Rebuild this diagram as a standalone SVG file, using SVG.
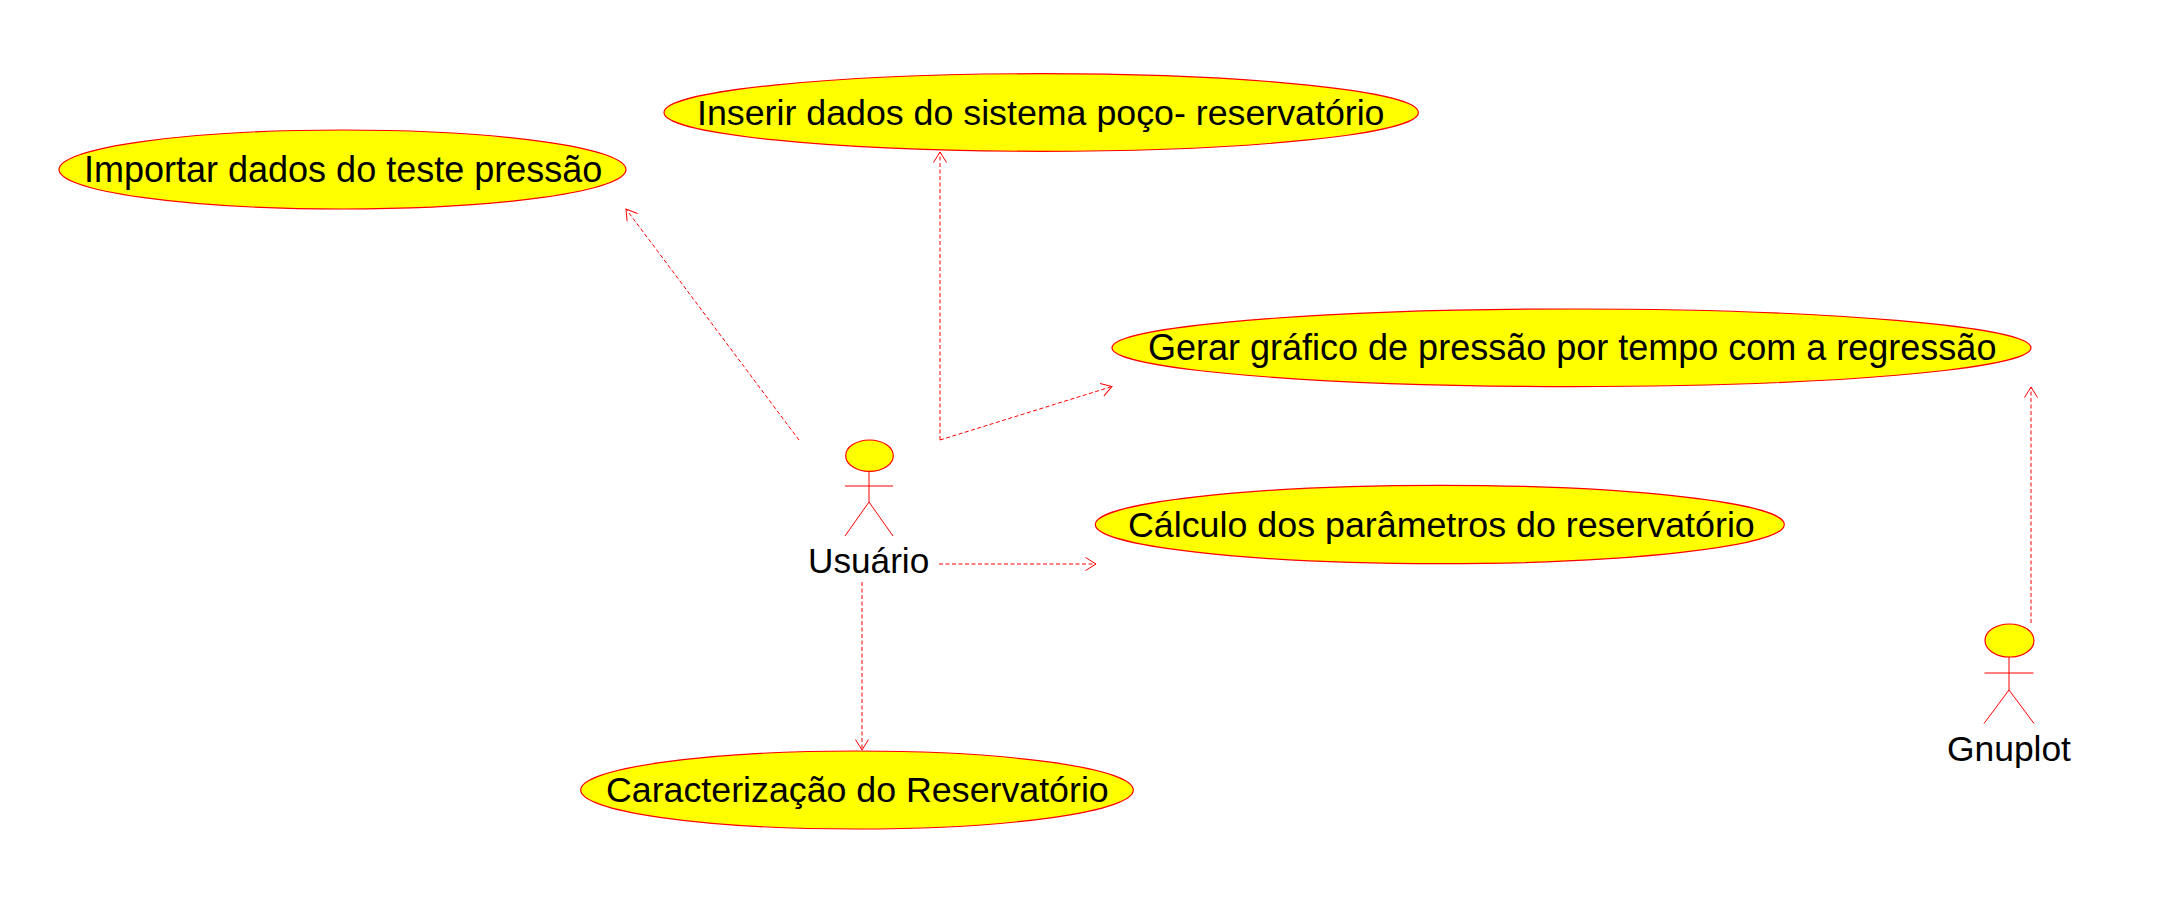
<svg xmlns="http://www.w3.org/2000/svg" width="2172" height="921" viewBox="0 0 2172 921">
<style>
.uc{fill:#ffff00;stroke:#ff0000;stroke-width:1.2}
.ln{fill:none;stroke:#ff0000;stroke-width:1}
.dash{fill:none;stroke:#ff0000;stroke-width:1;stroke-dasharray:4 2.5}
text{font-family:"Liberation Sans",Arial,sans-serif;font-size:36px;fill:#000}
</style>
<defs>
<marker id="arrow" markerUnits="userSpaceOnUse" markerWidth="14" markerHeight="16" refX="12" refY="7.5" orient="auto" overflow="visible">
<path d="M1.5 1 L12 7.5 L1.5 14" fill="none" stroke="#ff0000" stroke-width="1"/>
</marker>
</defs>
<rect width="2172" height="921" fill="#ffffff"/>
<g id="connectors">
<line class="dash" x1="799" y1="440" x2="626" y2="209" marker-end="url(#arrow)"/>
<line class="dash" x1="940" y1="440" x2="940" y2="152" marker-end="url(#arrow)"/>
<line class="dash" x1="940" y1="440" x2="1112" y2="386.5" marker-end="url(#arrow)"/>
<line class="dash" x1="939" y1="564" x2="1096" y2="564" marker-end="url(#arrow)"/>
<line class="dash" x1="862" y1="582" x2="862" y2="750" marker-end="url(#arrow)"/>
<line class="dash" x1="2031" y1="623" x2="2031" y2="387" marker-end="url(#arrow)"/>
</g>
<g id="uc-importar">
<ellipse class="uc" cx="342.5" cy="169.5" rx="283.5" ry="39.5"/>
<text x="84" y="181.5">Importar dados do teste pressão</text>
</g>
<g id="uc-inserir">
<ellipse class="uc" cx="1041.2" cy="112.5" rx="377.2" ry="38.8"/>
<text x="697" y="124.5" style="font-size:35.75px">Inserir dados do sistema poço- reservatório</text>
</g>
<g id="uc-gerar">
<ellipse class="uc" cx="1571.5" cy="347.8" rx="459.5" ry="38.8"/>
<text x="1148" y="359.5">Gerar gráfico de pressão por tempo com a regressão</text>
</g>
<g id="uc-calculo">
<ellipse class="uc" cx="1439.8" cy="524.5" rx="344.5" ry="39.2"/>
<text x="1128" y="536.5" style="font-size:35.8px">Cálculo dos parâmetros do reservatório</text>
</g>
<g id="uc-caracterizacao">
<ellipse class="uc" cx="857" cy="790" rx="276.3" ry="39"/>
<text x="606" y="802" style="font-size:35.75px">Caracterização do Reservatório</text>
</g>
<g id="actor-usuario">
<ellipse class="uc" cx="869.5" cy="455.7" rx="23.8" ry="15.7"/>
<line class="ln" x1="869" y1="471" x2="869" y2="502"/>
<line class="ln" x1="845" y1="486" x2="893" y2="486"/>
<path class="ln" d="M845 536 L869 502 L893 536"/>
<text x="808" y="572.5" style="font-size:35.2px">Usuário</text>
</g>
<g id="actor-gnuplot">
<ellipse class="uc" cx="2009.5" cy="640.5" rx="24.5" ry="16.5"/>
<line class="ln" x1="2009" y1="657" x2="2009" y2="690"/>
<line class="ln" x1="1984.5" y1="673" x2="2033.5" y2="673"/>
<path class="ln" d="M1984 723.5 L2009 690 L2034 723.5"/>
<text x="1947" y="760.5" style="font-size:35.4px">Gnuplot</text>
</g>
</svg>
